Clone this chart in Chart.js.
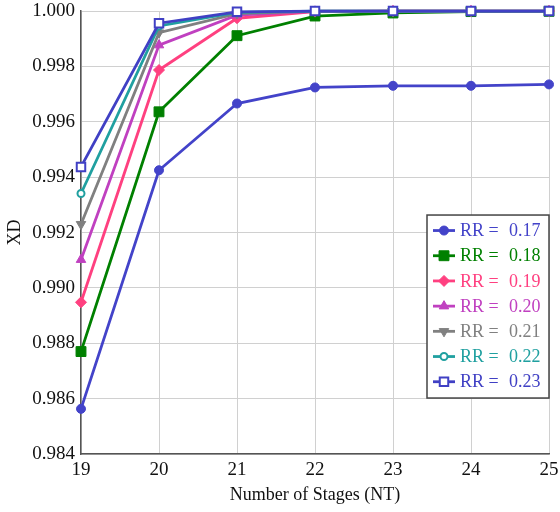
<!DOCTYPE html>
<html>
<head>
<meta charset="utf-8">
<script src="https://cdn.jsdelivr.net/npm/chart.js@4/dist/chart.umd.min.js"></script>
<style>
  html, body { margin: 0; padding: 0; background: #ffffff; }
  #wrap { width: 560px; height: 512px; }
</style>
</head>
<body>
<div id="wrap"><canvas id="c" width="560" height="512"></canvas></div>
<script>
// Number of stages on the x axis
const stages = ['19', '20', '21', '22', '23', '24', '25'];

// Distillate purity XD for each reflux ratio RR
const rr017 = [0.98563, 0.99425, 0.99666, 0.99724, 0.99730, 0.99730, 0.99735];
const rr018 = [0.98770, 0.99636, 0.99911, 0.99982, 0.99993, 0.99998, 0.99999];
const rr019 = [0.98948, 0.99787, 0.99974, 0.99998, 1.00000, 1.00000, 1.00000];
const rr020 = [0.99102, 0.99877, 0.99985, 0.99999, 1.00000, 1.00000, 1.00000];
const rr021 = [0.99230, 0.99922, 0.99991, 1.00000, 1.00000, 1.00000, 1.00000];
const rr022 = [0.99341, 0.99946, 0.99995, 1.00000, 1.00000, 1.00000, 1.00000];
const rr023 = [0.99437, 0.99956, 0.99997, 1.00000, 1.00000, 1.00000, 1.00000];

const rrLabels = ['0.17', '0.18', '0.19', '0.20', '0.21', '0.22', '0.23'];
const yTicks = [0.984, 0.986, 0.988, 0.990, 0.992, 0.994, 0.996, 0.998, 1.000];

const seriesValues = [rr017, rr018, rr019, rr020, rr021, rr022, rr023];

const SERIF = '"Liberation Serif", "Times New Roman", serif';

// Per-series appearance
const styles = [
  { color: '#4343c9', point: 'circle',   radius: 4.5, fill: null, rot: 0 },
  { color: '#008000', point: 'rect',     radius: 7,   fill: null, rot: 0 },
  { color: '#ff4080', point: 'rectRot',  radius: 5.5, fill: null, rot: 0 },
  { color: '#c040c0', point: 'triangle', radius: 5.5, fill: null, rot: 0 },
  { color: '#808080', point: 'triangle', radius: 5.5, fill: null, rot: 180 },
  { color: '#20a0a0', point: 'circle',   radius: 3.5, fill: '#ffffff', rot: 0 },
  { color: '#4040c4', point: 'rect',     radius: 6,   fill: '#ffffff', rot: 0 }
];

const datasets = seriesValues.map((vals, i) => {
  const s = styles[i];
  return {
    label: 'RR =  ' + rrLabels[i],
    data: vals,
    borderColor: s.color,
    backgroundColor: s.fill || s.color,
    borderWidth: 2.8,
    pointStyle: s.point,
    pointRadius: s.radius,
    pointHoverRadius: s.radius,
    pointRotation: s.rot,
    pointBorderWidth: s.fill ? 2 : 1,
    pointBorderColor: s.color,
    pointBackgroundColor: s.fill || s.color,
    tension: 0,
    clip: false,
    order: seriesValues.length - i
  };
});

// Boxed legend drawn inside the plot area, lower right
function drawMarker(ctx, s, x, y) {
  const opts = {
    pointStyle: s.point,
    rotation: s.rot,
    radius: s.radius,
    borderWidth: s.fill ? 2 : 1
  };
  ctx.save();
  ctx.fillStyle = s.fill || s.color;
  ctx.strokeStyle = s.color;
  ctx.lineWidth = opts.borderWidth;
  if (Chart.helpers && Chart.helpers.drawPoint) {
    Chart.helpers.drawPoint(ctx, opts, x, y);
  } else {
    ctx.beginPath();
    ctx.arc(x, y, s.radius, 0, Math.PI * 2);
    ctx.fill();
    ctx.stroke();
  }
  ctx.restore();
}

const boxLegend = {
  id: 'boxLegend',
  afterDraw(chart) {
    const ctx = chart.ctx;
    const area = chart.chartArea;
    const w = 122, h = 183;
    const x0 = area.right - w;
    const y0 = area.top + 204;
    ctx.save();
    ctx.fillStyle = '#ffffff';
    ctx.fillRect(x0, y0, w, h);
    ctx.strokeStyle = '#444444';
    ctx.lineWidth = 1.5;
    ctx.strokeRect(x0, y0, w, h);
    ctx.font = '18px ' + SERIF;
    ctx.textBaseline = 'middle';
    ctx.textAlign = 'left';
    const step = 25.2;
    styles.forEach((s, i) => {
      const cy = y0 + 15.5 + i * step;
      ctx.strokeStyle = s.color;
      ctx.lineWidth = 2.8;
      ctx.beginPath();
      ctx.moveTo(x0 + 6, cy);
      ctx.lineTo(x0 + 28, cy);
      ctx.stroke();
      drawMarker(ctx, s, x0 + 17, cy);
      ctx.fillStyle = s.color;
      ctx.fillText('RR =', x0 + 33, cy + 1);
      ctx.fillText(rrLabels[i], x0 + 82, cy + 1);
    });
    ctx.restore();
  }
};

new Chart(document.getElementById('c'), {
  type: 'line',
  data: { labels: stages, datasets: datasets },
  plugins: [boxLegend],
  options: {
    responsive: false,
    animation: false,
    devicePixelRatio: 1,
    layout: { padding: 0 },
    plugins: {
      legend: { display: false },
      tooltip: { enabled: false }
    },
    scales: {
      x: {
        type: 'category',
        offset: false,
        afterFit(scale) { scale.height = 58; },
        grid: { color: '#d0d0d0', lineWidth: 1, drawTicks: false },
        border: { color: '#555555', width: 1.5 },
        ticks: {
          padding: 1.5,
          color: '#111111',
          font: { family: SERIF, size: 19, lineHeight: 1.53 },
          maxRotation: 0
        },
        title: {
          display: true,
          text: 'Number of Stages (NT)',
          color: '#111111',
          font: { family: SERIF, size: 18 },
          padding: { top: 0, bottom: 6 }
        }
      },
      y: {
        min: yTicks[0],
        max: yTicks[yTicks.length - 1],
        afterFit(scale) { scale.width = 81; },
        afterBuildTicks(scale) { scale.ticks = yTicks.map(v => ({ value: v })); },
        grid: { color: '#d0d0d0', lineWidth: 1, drawTicks: false },
        border: { color: '#555555', width: 1.5 },
        ticks: {
          padding: 6,
          color: '#111111',
          font: { family: SERIF, size: 19, lineHeight: 0.53 },
          callback: v => Number(v).toFixed(3)
        },
        title: {
          display: true,
          text: 'XD',
          color: '#111111',
          font: { family: SERIF, size: 18 },
          padding: { top: 4, bottom: 0 }
        }
      }
    }
  }
});
</script>
</body>
</html>
